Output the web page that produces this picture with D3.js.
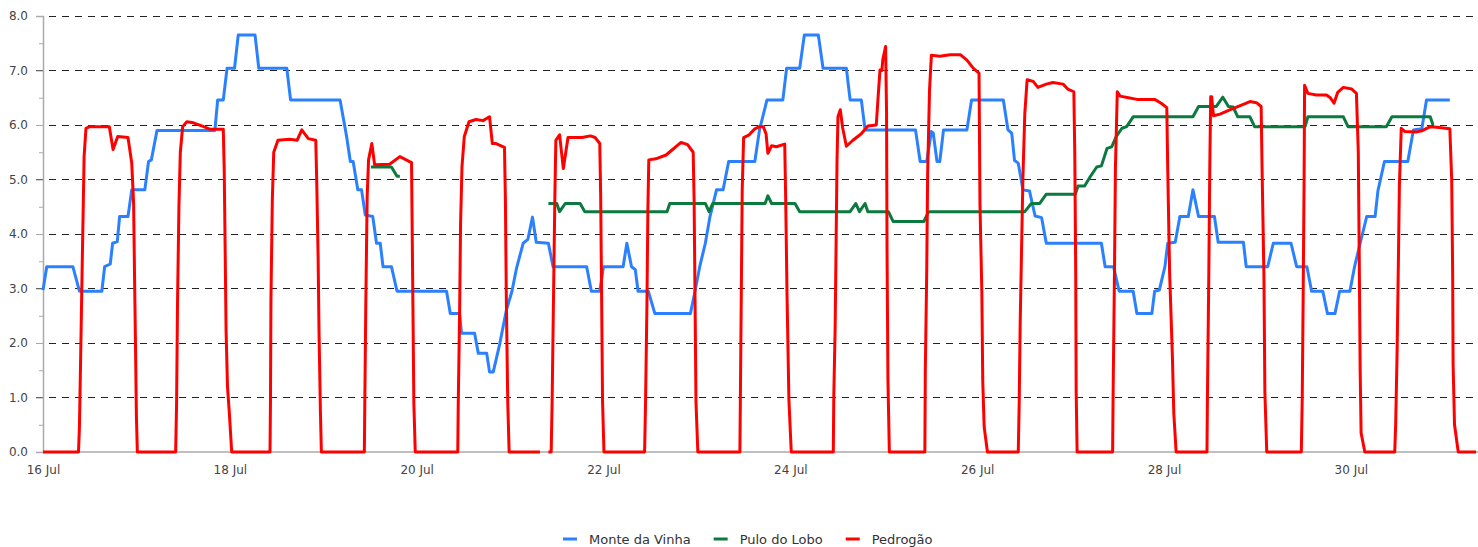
<!DOCTYPE html>
<html>
<head>
<meta charset="utf-8">
<script src="https://cdnjs.cloudflare.com/ajax/libs/d3/7.8.5/d3.min.js"></script>
<style>
  body { margin: 0; background: #fff; }
  svg { display: block; font-family: "DejaVu Sans", sans-serif; }
</style>
</head>
<body>
<svg id="chart" width="1478" height="547"></svg>
<script>
// times are day-of-July (decimal)
var tickDays = [16, 18, 20, 22, 24, 26, 28, 30];
var seriesNames = ["Monte da Vinha", "Pulo do Lobo", "Pedrogão"];
var seriesColors = ["#2a80ff", "#0b7a3e", "#ff0000"];
var dayRange = [16, 31.34];

var monteDaVinha = [
  [16.00,2.97],[16.04,3.40],[16.32,3.40],[16.39,2.95],[16.63,2.95],[16.66,3.40],[16.72,3.45],[16.745,3.83],
  [16.795,3.86],[16.82,4.32],[16.91,4.32],[16.95,4.81],[17.09,4.81],[17.13,5.33],[17.16,5.36],[17.22,5.90],
  [17.84,5.90],[17.87,6.46],[17.93,6.46],[17.97,7.04],
  [18.05,7.04],[18.09,7.65],[18.27,7.65],[18.31,7.04],[18.61,7.04],[18.65,6.46],[19.18,6.46],[19.25,5.79],
  [19.29,5.33],[19.32,5.33],[19.37,4.81],[19.41,4.81],[19.45,4.35],[19.53,4.32],[19.57,3.83],[19.61,3.83],
  [19.64,3.40],[19.73,3.40],[19.79,2.95],[20.32,2.95],[20.36,2.54],[20.46,2.54],[20.48,2.18],[20.62,2.18],
  [20.66,1.81],[20.75,1.81],[20.78,1.47],[20.82,1.47],[20.89,1.99],[20.96,2.60],[21.02,2.95],[21.07,3.38],
  [21.14,3.83],[21.19,3.90],[21.24,4.31],[21.28,3.85],[21.41,3.83],[21.46,3.40],[21.82,3.40],[21.87,2.95],
  [21.96,2.95],[22.00,3.40],[22.21,3.40],[22.25,3.83],[22.30,3.40],[22.34,3.35],[22.37,2.95],[22.48,2.95],
  [22.55,2.54],[22.93,2.54],[22.98,2.95],[23.03,3.40],[23.09,3.83],[23.14,4.32],[23.21,4.81],[23.28,4.81],
  [23.34,5.33],[23.62,5.33],[23.67,5.91],[23.75,6.46],[23.92,6.46],[23.96,7.04],[24.10,7.04],[24.15,7.65],
  [24.30,7.65],[24.35,7.04],[24.60,7.04],[24.64,6.46],[24.76,6.46],[24.80,5.91],[25.34,5.91],[25.39,5.33],
  [25.46,5.33],[25.51,5.88],[25.53,5.85],[25.57,5.33],[25.60,5.33],[25.64,5.91],[25.89,5.91],[25.94,6.46],
  [26.28,6.46],[26.33,5.91],[26.37,5.85],[26.40,5.35],[26.44,5.30],[26.49,4.81],[26.56,4.79],[26.62,4.33],
  [26.69,4.30],[26.74,3.83],[27.33,3.83],[27.37,3.40],[27.46,3.40],[27.52,2.95],[27.67,2.95],[27.71,2.54],
  [27.87,2.54],[27.90,2.95],[27.95,2.97],[28.01,3.40],[28.04,3.83],[28.12,3.85],[28.17,4.32],[28.26,4.32],
  [28.31,4.81],[28.37,4.32],[28.54,4.32],[28.58,3.85],[28.85,3.85],[28.88,3.40],[29.11,3.40],[29.17,3.83],
  [29.36,3.83],[29.42,3.40],[29.53,3.40],[29.58,2.95],[29.70,2.95],[29.75,2.54],[29.83,2.54],[29.88,2.95],
  [29.99,2.95],[30.04,3.40],[30.10,3.83],[30.17,4.32],[30.26,4.32],[30.29,4.79],[30.36,5.33],[30.61,5.33],
  [30.67,5.91],[30.76,5.93],[30.81,6.46],[31.06,6.46]
];

var puloDoLobo = [
  [19.51,5.23],[19.73,5.23],[19.79,5.06],[19.82,5.06],[19.90,null],
  [21.41,4.56],[21.50,4.56],[21.53,4.41],[21.59,4.56],[21.75,4.56],[21.80,4.41],[22.68,4.41],[22.71,4.56],
  [23.09,4.56],[23.13,4.41],[23.17,4.56],[23.73,4.56],[23.76,4.70],[23.80,4.56],[24.05,4.56],[24.10,4.41],
  [24.64,4.41],[24.70,4.56],[24.74,4.41],[24.80,4.56],[24.83,4.41],[25.05,4.41],[25.10,4.23],[25.43,4.23],
  [25.48,4.41],[26.51,4.41],[26.58,4.56],[26.67,4.56],[26.74,4.73],[27.05,4.73],[27.08,4.88],[27.15,4.88],
  [27.21,5.05],[27.28,5.23],[27.33,5.25],[27.39,5.57],[27.44,5.60],[27.49,5.79],[27.55,5.94],[27.60,5.97],
  [27.67,6.15],[28.31,6.15],[28.37,6.34],[28.56,6.34],[28.63,6.51],[28.69,6.34],[28.74,6.33],[28.79,6.15],
  [28.92,6.15],[28.97,5.97],[29.51,5.97],[29.54,6.15],[29.92,6.15],[29.97,5.97],[30.38,5.97],[30.44,6.15],
  [30.85,6.15],[30.88,6.00]
];

var pedrogao = [
  [16.00,0],[16.38,0],[16.39,0.46],[16.40,1.44],[16.41,2.45],[16.42,3.46],[16.43,4.43],[16.44,5.42],
  [16.46,5.94],[16.50,5.97],[16.71,5.97],[16.75,5.55],[16.80,5.79],[16.91,5.77],[16.95,5.30],[16.97,4.56],
  [16.98,3.22],[16.99,1.99],[17.00,0.65],[17.01,0],
  [17.42,0],[17.43,0.89],[17.44,2.73],[17.455,4.50],[17.47,5.50],[17.495,5.97],[17.54,6.06],[17.61,6.04],
  [17.72,5.97],[17.79,5.92],[17.93,5.92],[17.94,5.17],[17.95,3.71],[17.96,2.21],[17.975,1.20],[17.995,0.71],[18.02,0],
  [18.43,0],[18.435,0.92],[18.44,2.79],[18.455,4.63],[18.47,5.50],[18.515,5.72],[18.64,5.74],[18.72,5.72],
  [18.77,5.91],[18.84,5.75],[18.92,5.72],[18.93,4.99],[18.945,3.58],[18.955,2.18],[18.97,0.71],[18.98,0],
  [19.44,0],[19.445,0.92],[19.455,2.64],[19.47,4.68],[19.485,5.36],[19.52,5.66],[19.55,5.27],[19.71,5.28],
  [19.82,5.42],[19.945,5.31],[19.95,4.43],[19.96,2.67],[19.97,0.89],[19.985,0],
  [20.44,0],[20.445,0.86],[20.46,2.60],[20.47,4.19],[20.485,5.23],[20.51,5.79],[20.56,6.06],[20.635,6.10],
  [20.71,6.08],[20.78,6.15],[20.81,5.66],[20.85,5.66],[20.94,5.59],[20.95,4.63],[20.96,2.79],[20.975,0.92],[20.99,0],
  [21.32,0],[21.36,null],[21.41,0],
  [21.44,0],[21.45,0.92],[21.465,2.85],[21.48,4.75],[21.49,5.72],[21.53,5.82],[21.57,5.20],[21.62,5.77],
  [21.77,5.77],[21.86,5.80],[21.91,5.77],[21.96,5.66],[21.97,4.68],[21.98,2.81],[21.99,0.92],[22.005,0],
  [22.44,0],[22.45,0.90],[22.465,2.70],[22.475,4.44],[22.485,5.36],[22.56,5.38],[22.67,5.45],[22.74,5.55],
  [22.83,5.68],[22.90,5.64],[22.96,5.50],[22.97,4.63],[22.98,2.79],[22.99,0.92],[23.01,0],
  [23.46,0],[23.465,0.92],[23.475,2.90],[23.485,4.81],[23.50,5.77],[23.56,5.82],[23.62,5.93],[23.67,5.97],
  [23.71,5.97],[23.74,5.84],[23.76,5.48],[23.80,5.62],[23.85,5.60],[23.94,5.65],[23.95,4.68],[23.965,2.85],
  [23.985,0.95],[24.01,0],
  [24.46,0],[24.465,1.00],[24.48,2.30],[24.49,3.83],[24.50,5.36],[24.51,6.15],[24.535,6.28],[24.56,5.95],
  [24.60,5.61],[24.67,5.72],[24.76,5.84],[24.83,5.98],[24.92,6.00],[24.94,6.52],[24.96,7.01],[24.98,7.00],
  [24.99,7.20],[25.02,7.44],[25.03,6.24],[25.035,3.77],[25.045,1.32],[25.06,0],
  [25.44,0],[25.445,1.50],[25.46,3.30],[25.47,5.11],[25.49,6.64],[25.51,7.28],[25.60,7.26],[25.71,7.29],
  [25.82,7.29],[25.89,7.19],[25.96,7.04],[26.02,6.95],[26.03,4.56],[26.05,2.95],[26.06,1.30],[26.075,0.46],[26.11,0],
  [26.44,0],[26.45,0.90],[26.46,2.30],[26.475,3.70],[26.49,5.05],[26.51,6.21],[26.535,6.83],[26.60,6.80],
  [26.65,6.69],[26.74,6.75],[26.81,6.78],[26.92,6.75],[26.97,6.66],[27.035,6.61],[27.045,5.48],[27.055,3.30],
  [27.06,1.10],[27.07,0],
  [27.45,0],[27.455,1.00],[27.47,3.30],[27.48,5.20],[27.50,6.61],[27.53,6.53],[27.62,6.50],[27.71,6.47],
  [27.90,6.47],[27.97,6.40],[28.03,6.32],[28.04,5.20],[28.06,3.30],[28.09,1.75],[28.105,0.71],[28.13,0],
  [28.46,0],[28.465,1.00],[28.48,3.30],[28.49,5.20],[28.50,6.52],[28.51,6.52],[28.53,6.17],[28.60,6.20],
  [28.71,6.28],[28.81,6.35],[28.92,6.43],[28.99,6.41],[29.04,6.34],[29.05,5.20],[29.07,3.20],[29.08,1.10],[29.10,0],
  [29.47,0],[29.48,1.00],[29.49,2.90],[29.50,5.05],[29.505,6.73],[29.54,6.58],[29.63,6.55],[29.74,6.55],
  [29.78,6.50],[29.82,6.40],[29.86,6.60],[29.92,6.69],[30.01,6.66],[30.06,6.58],[30.08,5.50],[30.09,3.60],
  [30.10,1.50],[30.11,0.35],[30.15,0],
  [30.47,0],[30.48,0.50],[30.495,1.80],[30.51,3.60],[30.52,4.90],[30.54,5.94],[30.58,5.88],[30.70,5.87],
  [30.77,5.90],[30.85,5.97],[30.92,5.96],[31.06,5.93],[31.08,4.99],[31.09,3.30],[31.095,1.60],[31.11,0.50],
  [31.15,0],[31.34,0]
];

(function() {
  function toDate(day) {
    return new Date(Date.UTC(2016, 6, 1) + (day - 1) * 864e5);
  }

  var svg = d3.select("#chart"),
      width = +svg.attr("width"),
      height = +svg.attr("height"),
      left = 43, top = 16, plotRight = 1476, plotBottom = 452;

  var x = d3.scaleUtc()
      .domain(dayRange.map(toDate))
      .range([left, plotRight]);

  var y = d3.scaleLinear()
      .domain([0, 8])
      .range([plotBottom, top]);

  // dashed grid
  svg.append("g").selectAll("line")
      .data(y.ticks(8).filter(function(d) { return d > 0; }))
      .enter().append("line")
      .attr("x1", left - 7).attr("x2", width)
      .attr("y1", function(d) { return y(d); })
      .attr("y2", function(d) { return y(d); })
      .attr("stroke", "#222")
      .attr("stroke-width", 1)
      .attr("stroke-dasharray", "7,6")
      .attr("shape-rendering", "crispEdges");

  // y axis
  var yAxis = svg.append("g")
      .attr("transform", "translate(" + left + ",0)")
      .call(d3.axisLeft(y).ticks(8).tickSize(7).tickPadding(8).tickFormat(d3.format(".1f")));
  yAxis.select(".domain").attr("stroke", "#aaa").attr("stroke-width", 1.5);
  yAxis.selectAll(".tick line").attr("stroke", "#aaa");
  yAxis.selectAll("text").attr("fill", "#444").style("font-size", "12px").style("font-family", "DejaVu Sans");

  var minor = svg.append("g")
      .attr("transform", "translate(" + left + ",0)")
      .call(d3.axisLeft(y).tickValues(d3.range(0.5, 8, 1)).tickSize(4).tickFormat(""));
  minor.select(".domain").remove();
  minor.selectAll(".tick line").attr("stroke", "#aaa");

  // x axis
  var xAxis = svg.append("g")
      .attr("transform", "translate(0," + plotBottom + ")")
      .call(d3.axisBottom(x).tickValues(tickDays.map(toDate)).tickSize(0).tickPadding(13)
        .tickFormat(d3.utcFormat("%-d %b")));
  xAxis.select(".domain").remove();
  xAxis.selectAll("text").attr("fill", "#444").style("font-size", "12px").style("font-family", "DejaVu Sans");

  svg.append("line")
      .attr("x1", left).attr("x2", width)
      .attr("y1", plotBottom).attr("y2", plotBottom)
      .attr("stroke", "#aaa").attr("stroke-width", 1.5);

  // series
  var line = d3.line()
      .defined(function(d) { return d[1] != null; })
      .x(function(d) { return x(toDate(d[0])); })
      .y(function(d) { return y(d[1]); });

  var allSeries = [monteDaVinha, puloDoLobo, pedrogao];

  svg.append("g").selectAll("path")
      .data(allSeries)
      .enter().append("path")
      .attr("fill", "none")
      .attr("stroke", function(d, i) { return seriesColors[i]; })
      .attr("stroke-width", 3)
      .attr("stroke-linejoin", "round")
      .attr("d", line);

  // legend
  var legend = svg.append("g").attr("transform", "translate(563,539)");
  var cx = 0;
  seriesNames.forEach(function(name, i) {
    var item = legend.append("g").attr("transform", "translate(" + cx + ",0)");
    item.append("line")
        .attr("x1", 0).attr("x2", 14)
        .attr("stroke", seriesColors[i]).attr("stroke-width", 3);
    var t = item.append("text")
        .attr("x", 26).attr("y", 5)
        .attr("fill", "#333")
        .style("font-size", "13px")
        .text(name);
    cx += 26 + t.node().getComputedTextLength() + 23;
  });
})();
</script>
</body>
</html>
